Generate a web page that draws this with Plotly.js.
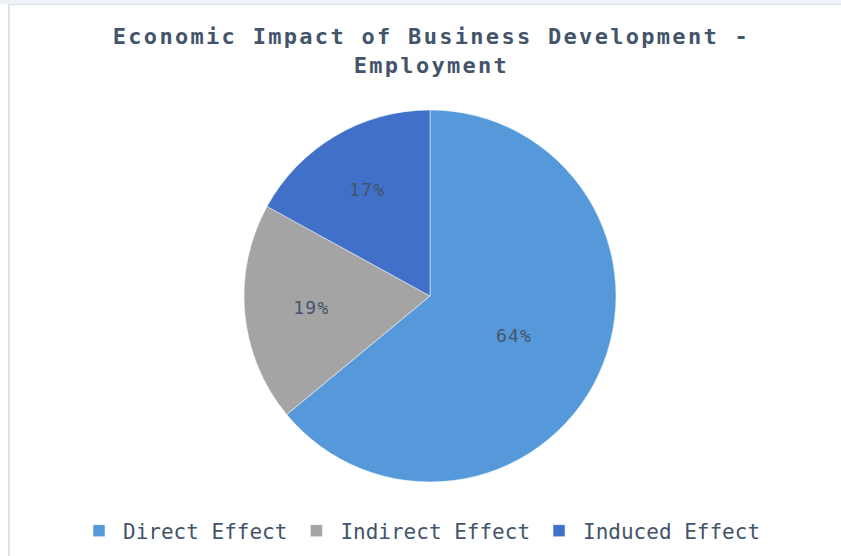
<!DOCTYPE html>
<html>
<head>
<meta charset="utf-8">
<script src="https://cdn.plot.ly/plotly-3.0.1.min.js"></script>
<style>
  html, body { margin: 0; padding: 0; background: #ffffff; }
  #wrap { position: relative; width: 841px; height: 556px; overflow: hidden; }
  #chart { position: absolute; left: 0; top: 0; width: 841px; height: 556px; }
  #topband { position: absolute; left: 0; top: 0; width: 841px; height: 4px; background: #eef1f5; }
  #frame { position: absolute; left: 8px; top: 4px; width: 840px; height: 560px;
           border-left: 2px solid #dde3ea; border-top: 1px solid #dde3ea; pointer-events: none; }
  #chart .gtitle { letter-spacing: 2.3px; }
  #chart .slicetext { letter-spacing: 1.2px; }
</style>
</head>
<body>
<div id="wrap">
  <div id="chart"></div>
  <div id="topband"></div>
  <div id="frame"></div>
</div>
<script>
const categories = ["Direct Effect", "Indirect Effect", "Induced Effect"];
const shares = [64, 19, 17];
const sliceColors = ["#5699da", "#a4a4a4", "#4170c8"];
const chartTitle = "Economic Impact of Business Development -<br>Employment";

const textColor = "#44546a";
const mono = "'DejaVu Sans Mono', 'Liberation Mono', monospace";

const data = [{
  type: "pie",
  labels: categories,
  values: shares,
  sort: false,
  direction: "clockwise",
  rotation: 0,
  textinfo: "percent",
  texttemplate: "%{percent:.0%}",
  textposition: "inside",
  insidetextorientation: "horizontal",
  textfont: { family: mono, size: 18, color: "#44546a" },
  marker: { colors: sliceColors, line: { color: "#ffffff", width: 0.5 } },
  domain: { x: [0.2901, 0.7325], y: [0.1331, 0.8022] },
  hoverinfo: "label+percent",
  showlegend: true
}];

const layout = {
  width: 841,
  height: 556,
  margin: { l: 0, r: 0, t: 0, b: 0 },
  paper_bgcolor: "rgba(0,0,0,0)",
  plot_bgcolor: "rgba(0,0,0,0)",
  title: {
    text: chartTitle,
    font: { family: mono, size: 22, color: textColor, weight: "bold" },
    x: 0.513,
    xanchor: "center",
    y: 0.921,
    yanchor: "middle"
  },
  showlegend: true,
  legend: {
    orientation: "h",
    x: 0.500,
    xanchor: "center",
    y: 0.045,
    yanchor: "middle",
    font: { family: mono, size: 21, color: textColor },
    itemwidth: 38,
    traceorder: "normal"
  }
};

Plotly.newPlot("chart", data, layout, { displayModeBar: false, staticPlot: true });
</script>
</body>
</html>
